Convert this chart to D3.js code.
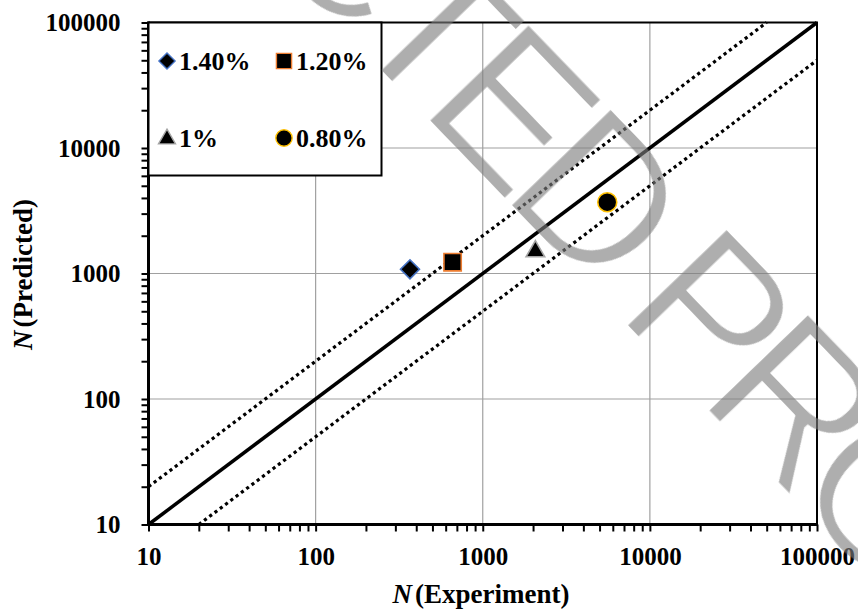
<!DOCTYPE html>
<html>
<head>
<meta charset="utf-8">
<script src="https://cdn.jsdelivr.net/npm/d3@7"></script>
<style>
  html, body { margin: 0; padding: 0; background: #fff; }
  svg { display: block; }
  .tick text { font-family: "Liberation Serif", "Times New Roman", serif; font-weight: bold; font-size: 25px; fill: #000; }
</style>
</head>
<body>
<div id="chart"></div>
<script>
// ============================================================
//  Data
// ============================================================

const seriesNames = ['1.40%', '1.20%', '1%', '0.80%'];
const experimentN = [367, 660, 2065, 5560];
const predictedN = [1080, 1230, 1500, 3700];

const majorTicks = [10, 100, 1000, 10000, 100000];

// y = x and the factor-of-two band
const perfectLine = [[10, 10], [100000, 100000]];
const upperBound = [[10, 20], [50000, 100000]];
const lowerBound = [[20, 10], [100000, 50000]];

const watermarkText = 'UNCORRECTED PROOF';

// ============================================================
//  Layout
// ============================================================

const W = 858, H = 612;
const plot = { left: 148.5, right: 817, top: 22.5, bottom: 524.5 };
const serif = '"Liberation Serif", "Times New Roman", serif';

const markerStyles = [
  { type: d3.symbolSquare, rotate: 45, size: 180, legendSize: 130, stroke: '#4472c4' },
  { type: d3.symbolSquare, rotate: 0, size: 300, legendSize: 230, stroke: '#ed7d31' },
  { type: d3.symbolTriangle, rotate: 0, size: 150, legendSize: 125, stroke: '#a5a5a5' },
  { type: d3.symbolCircle, rotate: 0, size: 283, legendSize: 210, stroke: '#ffc000' },
];

const svg = d3.select('#chart').append('svg')
  .attr('width', W)
  .attr('height', H);

const x = d3.scaleLog().domain([10, 100000]).range([plot.left, plot.right]);
const y = d3.scaleLog().domain([10, 100000]).range([plot.bottom, plot.top]);

// every tick 1..9 x decade, labels only on decades
const allTicks = [];
majorTicks.slice(0, -1).forEach(d => {
  for (let k = 1; k < 10; k++) allTicks.push(d * k);
});
allTicks.push(100000);
const fmt = d => majorTicks.includes(d) ? String(d) : '';

// gridlines
const grid = svg.append('g');
grid.selectAll('.gx').data(majorTicks.slice(1, -1)).join('line')
  .attr('x1', d => x(d)).attr('x2', d => x(d))
  .attr('y1', plot.top).attr('y2', plot.bottom)
  .attr('stroke', '#a0a0a0').attr('stroke-width', 1.2);
grid.selectAll('.gy').data(majorTicks.slice(1, -1)).join('line')
  .attr('y1', d => y(d)).attr('y2', d => y(d))
  .attr('x1', plot.left).attr('x2', plot.right)
  .attr('stroke', '#a0a0a0').attr('stroke-width', 1.2);

// frame (top + right)
svg.append('path')
  .attr('d', `M${plot.left},${plot.top}H${plot.right}V${plot.bottom}`)
  .attr('fill', 'none').attr('stroke', '#000').attr('stroke-width', 2);

// reference lines
const line = d3.line().x(d => x(d[0])).y(d => y(d[1]));
svg.append('path').datum(perfectLine).attr('d', line)
  .attr('fill', 'none').attr('stroke', '#000').attr('stroke-width', 3.5);
[upperBound, lowerBound].forEach(b => {
  svg.append('path').datum(b).attr('d', line)
    .attr('fill', 'none').attr('stroke', '#000').attr('stroke-width', 3.2)
    .attr('stroke-dasharray', '3.2,3.4');
});

// axes
const xAxis = svg.append('g')
  .attr('transform', `translate(0,${plot.bottom})`)
  .call(d3.axisBottom(x).tickValues(allTicks).tickFormat(fmt).tickSize(7).tickPadding(16));
const yAxis = svg.append('g')
  .attr('transform', `translate(${plot.left},0)`)
  .call(d3.axisLeft(y).tickValues(allTicks).tickFormat(fmt).tickSize(7).tickPadding(21));
[xAxis, yAxis].forEach(a => {
  a.select('.domain').attr('stroke', '#000').attr('stroke-width', 3);
  a.selectAll('.tick line').attr('stroke', '#000').attr('stroke-width', 2);
});
xAxis.select('.domain').attr('d', `M${plot.left - 1.5},0H${plot.right + 1}`);
yAxis.select('.domain').attr('d', `M0,${plot.bottom + 1.5}V${plot.top - 1}`);

// data points
const points = svg.append('g');
seriesNames.forEach((name, i) => {
  const m = markerStyles[i];
  points.append('path')
    .attr('d', d3.symbol().type(m.type).size(m.size)())
    .attr('transform', `translate(${x(experimentN[i])},${y(predictedN[i])}) rotate(${m.rotate})`)
    .attr('fill', '#000').attr('stroke', m.stroke).attr('stroke-width', 1.6);
});

// legend
const legend = svg.append('g');
legend.append('rect')
  .attr('x', 148.5).attr('y', 22.5).attr('width', 233).attr('height', 153)
  .attr('fill', '#fff').attr('stroke', '#000').attr('stroke-width', 2);
const legendPos = [[167, 61], [284, 61], [167, 138], [284, 138]];
seriesNames.forEach((name, i) => {
  const m = markerStyles[i];
  const [lx, ly] = legendPos[i];
  legend.append('path')
    .attr('d', d3.symbol().type(m.type).size(m.legendSize)())
    .attr('transform', `translate(${lx},${ly + (i === 2 ? 1 : 0)}) rotate(${m.rotate})`)
    .attr('fill', '#000').attr('stroke', m.stroke).attr('stroke-width', 1.4);
  legend.append('text')
    .attr('x', lx + 12).attr('y', ly + 8.5)
    .attr('font-family', serif)
    .attr('font-weight', 'bold').attr('font-size', 26)
    .text(name);
});

// axis titles
const xTitle = svg.append('text')
  .attr('x', 481).attr('y', 603)
  .attr('text-anchor', 'middle')
  .attr('font-family', serif)
  .attr('font-weight', 'bold').attr('font-size', 27);
xTitle.append('tspan').attr('font-style', 'italic').text('N');
xTitle.append('tspan').attr('dx', 3).text('(Experiment)');

const yTitle = svg.append('text')
  .attr('transform', `translate(31.5,${(plot.top + plot.bottom) / 2 + 1}) rotate(-90)`)
  .attr('text-anchor', 'middle')
  .attr('font-family', serif)
  .attr('font-weight', 'bold').attr('font-size', 27);
yTitle.append('tspan').attr('font-style', 'italic').text('N');
yTitle.append('tspan').attr('dx', 3).text('(Predicted)');

// watermark on top
svg.append('defs').append('filter').attr('id', 'thin')
  .attr('x', '-5%').attr('y', '-5%').attr('width', '110%').attr('height', '110%')
  .append('feMorphology').attr('operator', 'erode').attr('radius', 1.8);
const wm = svg.append('g').attr('opacity', 0.62);
const wmText = wm.append('text')
  .attr('font-family', '"Liberation Sans", Arial, sans-serif')
  .attr('font-size', 205)
  .attr('letter-spacing', -19)
  .attr('fill', '#7e7e7e')
  .attr('filter', 'url(#thin)')
  .text(watermarkText);
const eStart = wmText.node().getStartPositionOfChar(9).x + 0.079 * 205;
wm.attr('transform', `translate(427,120) rotate(46) translate(${-eStart},0)`);
</script>
</body>
</html>
